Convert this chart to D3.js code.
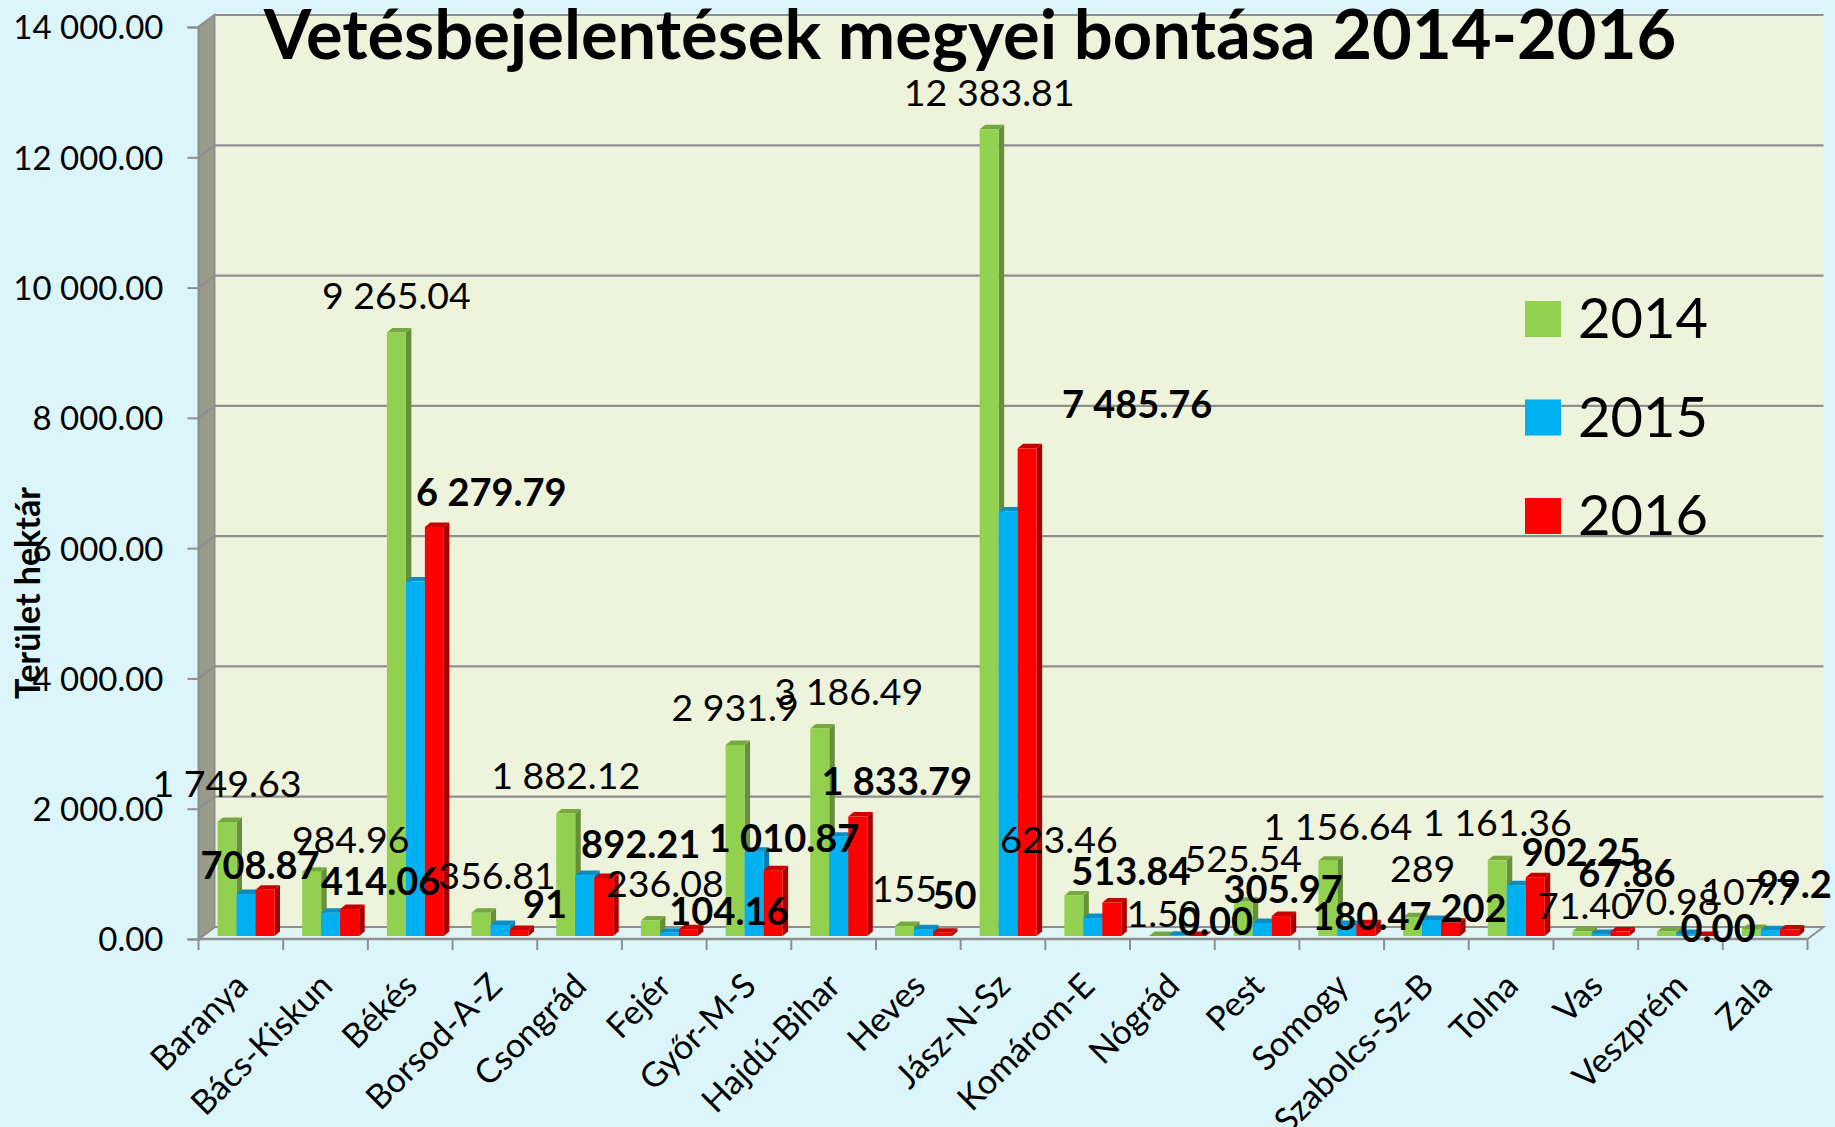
<!DOCTYPE html>
<html>
<head>
<meta charset="utf-8">
<script src="https://cdn.jsdelivr.net/npm/d3@7"></script>
<style>
  html, body { margin: 0; padding: 0; background: #dbf5fa; overflow: hidden; }
  text { font-family: Lato, "Open Sans", sans-serif; fill: #000; }
</style>
</head>
<body>
<div id="container"></div>
<script>
// Data
var counties = ["Baranya","Bács-Kiskun","Békés","Borsod-A-Z","Csongrád","Fejér","Győr-M-S","Hajdú-Bihar","Heves","Jász-N-Sz","Komárom-E","Nógrád","Pest","Somogy","Szabolcs-Sz-B","Tolna","Vas","Veszprém","Zala"];
var values2014 = [1749.63,984.96,9265.04,356.81,1882.12,236.08,2931.9,3186.49,155,12383.81,623.46,1.5,525.54,1156.64,289,1161.36,71.4,70.98,107.7];
// 2015 has no labels in the original
var values2015 = [645,358,5440,170,935,50,1295,1525,105,6517,275,3,200,170,245,780,30,30,90];
var values2016 = [708.87,414.06,6279.79,91,892.21,104.16,1010.87,1833.79,50,7485.76,513.84,0,305.97,180.47,202,902.25,67.86,0,99.2];
var labels2014 = ["1 749.63","984.96","9 265.04","356.81","1 882.12","236.08","2 931.9","3 186.49","155","12 383.81","623.46","1.50","525.54","1 156.64","289","1 161.36","71.40","70.98","107.7"];
var labels2016 = ["708.87","414.06","6 279.79","91","892.21","104.16","1 010.87","1 833.79","50","7 485.76","513.84","0.00","305.97","180.47","202","902.25","67.86","0.00","99.2"];
var years = ["2014","2015","2016"];
var yTicks = [0,2000,4000,6000,8000,10000,12000,14000];

// Hand moved labels in the original: offset from top of own bar
var offset2014 = [[0,-25],[39,-19],[0,-23.5],[16,-24],[0,-24],[14.5,-24],[0,-24.4],[29,-23.6],[0,-24],[0,-23.3],[-15,-42],[5,-9],[0,-30],[10,-21],[10,-35],[0,-24],[3,-12],[5,-16],[-2,-24]];
var offset2016 = [[-5,-11],[31,-14],[57,-21],[26,-12],[37,-20],[40.5,-4],[11,-18.5],[39,-21.6],[12,-24],[110,-30],[19,-17.5],[19,-1],[2,-13],[6,6],[23,-1],[46,-11],[7,-45],[13.5,6],[5,-32]];

var colors = ["#92d050","#00b0f0","#ff0000"],
    topColors = ["#76a83f","#0b8dc2","#c80000"],
    sideColors = ["#668f3a","#0a7fae","#a80000"];

var width = 1835, height = 1127,
    svg = d3.select("div#container").append("svg")
      .attr("width", width)
      .attr("height", height)
      .style("display", "block");

svg.append("rect").attr("width", width).attr("height", height).attr("fill", "#dbf5fa");

// front plane of the fake 3d box
var left = 198.5, right = 1807.5, bottom = 939, top_ = 27,
    depthX = 16, depthY = -12;

var x = d3.scaleBand().domain(counties).range([left, right]);
var y = d3.scaleLinear().domain([0, 14000]).range([bottom, top_]);
var series = d3.scaleBand().domain(years).range([19, 76]);

var numFormat = d3.formatLocale({decimal: ".", thousands: " ", grouping: [3], currency: ["", ""]}).format(",.2f");
var gridColor = "#8f8f8f";

// back wall
svg.append("rect")
  .attr("x", left + depthX).attr("y", top_ + depthY)
  .attr("width", right - left).attr("height", bottom - top_)
  .attr("fill", "#eef3dc");

// left wall
svg.append("path")
  .attr("d", d3.line()([[left, bottom], [left, top_], [left + depthX, top_ + depthY], [left + depthX, bottom + depthY]]) + "Z")
  .attr("fill", "#9a9c8a")
  .attr("stroke", gridColor).attr("stroke-width", 2);

// floor
svg.append("path")
  .attr("d", d3.line()([[left, bottom], [right, bottom], [right + depthX, bottom + depthY], [left + depthX, bottom + depthY]]) + "Z")
  .attr("fill", "#e2f5f6")
  .attr("stroke", gridColor).attr("stroke-width", 2);

// gridlines on back + left wall
svg.append("g").selectAll("path.grid")
  .data(yTicks)
  .enter().append("path")
    .attr("class", "grid")
    .attr("fill", "none")
    .attr("stroke", gridColor)
    .attr("stroke-width", 2.2)
    .attr("d", function(d) {
      return d3.line()([[left, y(d)], [left + depthX, y(d) + depthY], [right + depthX, y(d) + depthY]]);
    });

// axes
var yAxis = d3.axisLeft(y).tickValues(yTicks).tickFormat(numFormat).tickSize(11).tickPadding(24);
var gy = svg.append("g").attr("transform", "translate(" + left + ",0)").call(yAxis);
gy.selectAll("text").style("font-size", "33px").attr("dy", "0.36em");

var gx = svg.append("g").attr("transform", "translate(0," + bottom + ")");
gx.append("path").attr("d", "M" + left + ",0H" + right).attr("stroke", gridColor).attr("stroke-width", 2.5);
// ticks sit between the categories
gx.selectAll("line.tick")
  .data(counties.concat(["end"]))
  .enter().append("line")
    .attr("class", "tick")
    .attr("x1", function(d, i) { return left + i * x.step(); })
    .attr("x2", function(d, i) { return left + i * x.step(); })
    .attr("y1", 0).attr("y2", 11)
    .attr("stroke", gridColor).attr("stroke-width", 2);

gx.selectAll("text.cat")
  .data(counties)
  .enter().append("text")
    .attr("class", "cat")
    .attr("text-anchor", "end")
    .style("font-size", "34px")
    .attr("transform", function(d) {
      return "translate(" + (x(d) + x.bandwidth() / 2 + 9) + ",49) rotate(-45)";
    })
    .text(function(d) { return d; });
gy.selectAll("path.domain").attr("stroke", gridColor).attr("stroke-width", 2);
gy.selectAll("line").attr("stroke", gridColor).attr("stroke-width", 2);

// bars
var barDx = 0, barBase = -3, sideX = 5.5, sideY = -4.5;
var allSeries = [values2014, values2015, values2016];

counties.forEach(function(c, i) {
  var g = svg.append("g").attr("class", "county");
  allSeries.forEach(function(vals, s) {
    var bx = x(c) + series(years[s]) + barDx,
        w = series.bandwidth(),
        by = y(vals[i]) + barBase,
        base = y(0) + barBase;
    // side
    g.append("path")
      .attr("d", d3.line()([[bx + w, by], [bx + w + sideX, by + sideY], [bx + w + sideX, base + sideY], [bx + w, base]]) + "Z")
      .attr("fill", sideColors[s]);
    // top
    g.append("path")
      .attr("d", d3.line()([[bx, by], [bx + sideX, by + sideY], [bx + w + sideX, by + sideY], [bx + w, by]]) + "Z")
      .attr("fill", topColors[s]);
    // front
    g.append("rect")
      .attr("x", bx).attr("y", by)
      .attr("width", w).attr("height", base - by)
      .attr("fill", colors[s]);
  });
});

// data labels, 2014 normal and 2016 bold
function addLabels(vals, labels, offsets, year, weight, size) {
  svg.append("g").selectAll("text")
    .data(counties)
    .enter().append("text")
      .attr("text-anchor", "middle")
      .style("font-size", size)
      .style("font-weight", weight)
      .attr("x", function(d, i) { return x(d) + series(year) + series.bandwidth() / 2 + barDx + offsets[i][0]; })
      .attr("y", function(d, i) { return y(vals[i]) + barBase + offsets[i][1]; })
      .text(function(d, i) { return labels[i]; });
}
addLabels(values2014, labels2014, offset2014, "2014", "normal", "37.5px");
addLabels(values2016, labels2016, offset2016, "2016", "bold", "38px");

// legend
var legendY = d3.scalePoint().domain(years).range([319, 516]);
var legend = svg.append("g").selectAll("g")
  .data(years)
  .enter().append("g")
    .attr("transform", function(d) { return "translate(1525," + legendY(d) + ")"; });
legend.append("rect")
  .attr("y", -18).attr("width", 36).attr("height", 36)
  .attr("fill", function(d, i) { return colors[i]; });
legend.append("text")
  .attr("x", 53).attr("y", 19)
  .style("font-size", "56px")
  .text(function(d) { return d; });

// title
svg.append("text")
  .attr("x", 970).attr("y", 59)
  .attr("text-anchor", "middle")
  .style("font-size", "68.6px")
  .style("font-weight", "bold")
  .text("Vetésbejelentések megyei bontása 2014-2016");

// y axis title
svg.append("text")
  .attr("transform", "translate(40,593) rotate(-90)")
  .attr("text-anchor", "middle")
  .style("font-size", "34px")
  .style("font-weight", "bold")
  .text("Terület hektár");
</script>
</body>
</html>
